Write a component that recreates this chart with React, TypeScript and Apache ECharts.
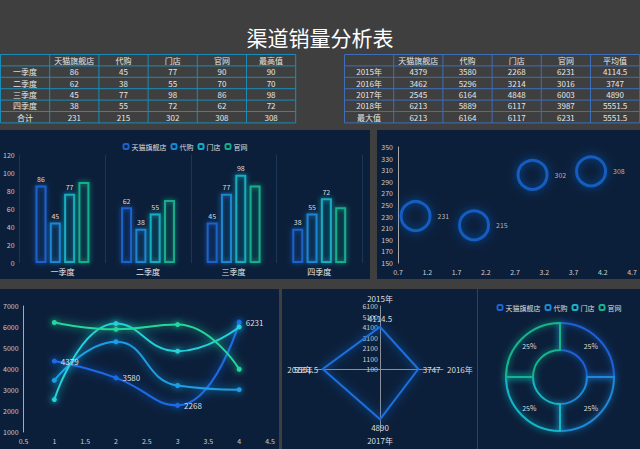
import React, { useEffect, useRef } from 'react';
import * as echarts from 'echarts';

const FONT = '"Noto Sans CJK SC", "Noto Sans", sans-serif';
const PANEL = '#0c1f3a';

const channels = ['天猫旗舰店', '代购', '门店', '官网'];
const quarters = ['一季度', '二季度', '三季度', '四季度'];
const qTmall = [86, 62, 45, 38];
const qDaigou = [45, 38, 77, 55];
const qStore = [77, 55, 98, 72];
const qWeb = [90, 70, 86, 62];
const qMax = [90, 70, 98, 72];
const qTotals = [231, 215, 302, 308];
const qTotalMax = 308;

const years = ['2015年', '2016年', '2017年', '2018年'];
const yTmall = [4379, 3462, 2545, 6213];
const yDaigou = [3580, 5296, 6164, 5889];
const yStore = [2268, 3214, 4848, 6117];
const yWeb = [6231, 3016, 6003, 3987];
const yAvg = [4114.5, 3747, 4890, 5551.5];
const yMaxRow = [6213, 6164, 6117, 6231, 5551.5];

const bubbleX = [1, 2, 3, 4];
const lineX = [1, 2, 3, 4];
const pieShares = [25, 25, 25, 25];

const BAR_C = ['#1d62cc', '#1a86d2', '#17adc0', '#16ad8a'];
const PIE_C = ['#1d62d6', '#1a8ad8', '#18b4c6', '#17b48e'];
const LINE_C = ['#1f6ae6', '#1a9ee6', '#20d2dc', '#22d89c'];
const RADAR_C = '#1a70e0';
const BUBBLE_C = '#1768d8';

const plain = (v: number) => String(v);

function tableEls(x0: number, y0: number, colW: number, rowH: number, rows: string[][], stroke: string) {
  const els: any[] = [];
  const nR = rows.length;
  const nC = rows[0].length;
  for (let r = 0; r <= nR; r++) {
    els.push({ type: 'line', shape: { x1: x0, y1: y0 + r * rowH, x2: x0 + nC * colW, y2: y0 + r * rowH }, style: { stroke, lineWidth: 1 } });
  }
  for (let c = 0; c <= nC; c++) {
    els.push({ type: 'line', shape: { x1: x0 + c * colW, y1: y0, x2: x0 + c * colW, y2: y0 + nR * rowH }, style: { stroke, lineWidth: 1 } });
  }
  rows.forEach((row, r) =>
    row.forEach((t, c) =>
      els.push({
        type: 'text',
        x: x0 + c * colW + colW / 2,
        y: y0 + r * rowH + rowH / 2,
        style: { text: t, fill: '#e6e6e6', fontSize: 8, fontFamily: FONT, align: 'center', verticalAlign: 'middle' },
      })
    )
  );
  return els;
}

export default function App() {
  const headRef = useRef<HTMLDivElement>(null);
  const barRef = useRef<HTMLDivElement>(null);
  const scatRef = useRef<HTMLDivElement>(null);
  const lineRef = useRef<HTMLDivElement>(null);
  const radarRef = useRef<HTMLDivElement>(null);
  const pieRef = useRef<HTMLDivElement>(null);

  useEffect(() => {
    const charts: any[] = [];
    const mk = (el: HTMLDivElement | null, opt: any) => {
      if (!el) return;
      const c = echarts.init(el, undefined, { renderer: 'svg' });
      c.setOption(opt);
      charts.push(c);
    };

    const leftRows: string[][] = [
      ['', ...channels, '最高值'],
      ...quarters.map((q, i) => [q, String(qTmall[i]), String(qDaigou[i]), String(qStore[i]), String(qWeb[i]), String(qMax[i])]),
      ['合计', ...qTotals.map(String), String(qTotalMax)],
    ];
    const rightRows: string[][] = [
      ['', ...channels, '平均值'],
      ...years.map((y, i) => [y, String(yTmall[i]), String(yDaigou[i]), String(yStore[i]), String(yWeb[i]), String(yAvg[i])]),
      ['最大值', ...yMaxRow.map(String)],
    ];
    mk(headRef.current, {
      animation: false,
      graphic: [
        {
          type: 'text', x: 320, y: 37,
          style: { text: '渠道销量分析表', fill: '#ffffff', fontSize: 21, fontFamily: FONT, align: 'center', verticalAlign: 'middle' },
        },
        ...tableEls(0.5, 54.5, 49.2, 11.4, leftRows, '#1b8cb8'),
        ...tableEls(344.5, 54.5, 49.2, 11.4, rightRows, '#3d6fb8'),
      ],
    });

    const qSeries = [qTmall, qDaigou, qStore, qWeb];
    mk(barRef.current, {
      animation: false,
      backgroundColor: PANEL,
      textStyle: { fontFamily: FONT },
      legend: {
        top: 8, left: 'center', itemWidth: 5, itemHeight: 5, itemGap: 4,
        textStyle: { color: '#dddddd', fontSize: 7, padding: [0, 0, 0, -2] }, data: channels,
      },
      grid: { left: 19, right: 8, top: 25, bottom: 16 },
      xAxis: {
        type: 'category', data: quarters,
        axisLine: { show: false }, axisTick: { show: false },
        axisLabel: { color: '#e8e8e8', fontSize: 8, margin: 4 },
        splitLine: { show: true, lineStyle: { color: '#1c3658' } },
      },
      yAxis: {
        type: 'value', min: 0, max: 120, interval: 20,
        axisLine: { show: false }, axisTick: { show: false }, splitLine: { show: false },
        axisLabel: { color: '#cccccc', fontSize: 7, margin: 5, formatter: plain },
      },
      series: channels.map((n, i) => ({
        type: 'bar', name: n, data: qSeries[i], barWidth: 11, barGap: '30%',
        itemStyle: { color: 'transparent', borderColor: BAR_C[i], borderWidth: 2, shadowBlur: 5, shadowColor: BAR_C[i] },
        label: { show: i < 3, position: 'top', color: '#dddddd', fontSize: 7, distance: 3 },
      })),
    });

    mk(scatRef.current, {
      animation: false,
      backgroundColor: PANEL,
      textStyle: { fontFamily: FONT },
      grid: { left: 21, right: 8, top: 17, bottom: 16 },
      xAxis: {
        type: 'value', min: 0.7, max: 4.7, interval: 0.5,
        axisLine: { show: false }, axisTick: { show: false }, splitLine: { show: false },
        axisLabel: { color: '#cccccc', fontSize: 7, margin: 5, formatter: (v: number) => v.toFixed(1) },
      },
      yAxis: {
        type: 'value', min: 150, max: 350, interval: 20,
        axisLine: { show: true, lineStyle: { color: '#aaaaaa' } }, axisTick: { show: false }, splitLine: { show: false },
        axisLabel: { color: '#cccccc', fontSize: 7, margin: 5, formatter: plain },
      },
      series: [{
        type: 'scatter', name: '合计',
        data: bubbleX.map((x, i) => [x, qTotals[i]]),
        symbolSize: 29,
        itemStyle: { color: 'transparent', borderColor: BUBBLE_C, borderWidth: 3, shadowBlur: 8, shadowColor: BUBBLE_C },
        label: { show: true, position: 'right', distance: 6, color: '#dddddd', fontSize: 7, formatter: (p: any) => String(p.value[1]) },
      }],
    });

    const yearSeries = [yTmall, yDaigou, yStore, yWeb];
    mk(lineRef.current, {
      animation: false,
      backgroundColor: PANEL,
      textStyle: { fontFamily: FONT },
      grid: { left: 23, right: 9, top: 17, bottom: 17 },
      xAxis: {
        type: 'value', min: 0.5, max: 4.5, interval: 0.5,
        axisLine: { show: false }, axisTick: { show: false }, splitLine: { show: false },
        axisLabel: { color: '#cccccc', fontSize: 7, margin: 5, formatter: plain },
      },
      yAxis: {
        type: 'value', min: 1000, max: 7000, interval: 1000,
        axisLine: { show: true, lineStyle: { color: '#aaaaaa' } }, axisTick: { show: false }, splitLine: { show: false },
        axisLabel: { color: '#cccccc', fontSize: 7, margin: 5, formatter: plain },
      },
      series: years.map((y, i) => ({
        type: 'line', name: y, smooth: true,
        data: lineX.map((x, j) => [x, yearSeries[j][i]]),
        symbol: 'circle', symbolSize: 5,
        lineStyle: { color: LINE_C[i], width: 2, shadowBlur: 8, shadowColor: LINE_C[i] },
        itemStyle: { color: LINE_C[i], shadowBlur: 6, shadowColor: LINE_C[i] },
        label: { show: i === 0, position: 'right', color: '#dddddd', fontSize: 8, distance: 4 },
      })),
    });

    const radarOrder = [0, 3, 2, 1];
    const radarPos = ['top', 'left', 'bottom', 'right'];
    const radarVals = radarOrder.map((k) => yAvg[k]);
    mk(radarRef.current, {
      animation: false,
      backgroundColor: PANEL,
      textStyle: { fontFamily: FONT },
      radar: {
        center: [98, 80], radius: 63, startAngle: 90, splitNumber: 6,
        indicator: radarOrder.map((k) => ({
          name: years[k], min: 100, max: 6100,
          ...(k === 0 ? { axisLabel: { show: true } } : {}),
        })),
        axisName: { color: '#dddddd', fontSize: 8 },
        nameGap: 4,
        axisLine: { lineStyle: { color: '#8a909a' } },
        axisTick: { show: false },
        splitLine: { show: false },
        splitArea: { show: false },
        axisLabel: { show: false, color: '#cccccc', fontSize: 7, margin: 2, formatter: plain },
      },
      series: [
        {
          type: 'radar', name: '平均值',
          data: [{ value: radarVals, name: '平均值' }],
          symbol: 'none',
          lineStyle: { color: RADAR_C, width: 2, shadowBlur: 8, shadowColor: RADAR_C },
        },
        ...radarVals.map((v, i) => ({
          type: 'radar', name: 'lbl' + i,
          data: [{ value: radarVals, name: 'lbl' + i }],
          symbol: 'circle', symbolSize: 1,
          itemStyle: { color: 'rgba(0,0,0,0)' },
          lineStyle: { width: 0, opacity: 0 },
          label: {
            show: true, position: radarPos[i], color: '#dddddd', fontSize: 8, distance: 4,
            formatter: (p: any) => (p.value === v ? String(v) : ''),
          },
        })),
      ],
    });

    mk(pieRef.current, {
      animation: false,
      backgroundColor: PANEL,
      textStyle: { fontFamily: FONT },
      legend: {
        top: 10, left: 'center', itemWidth: 5, itemHeight: 5, itemGap: 4,
        textStyle: { color: '#dddddd', fontSize: 7, padding: [0, 0, 0, -2] }, data: channels,
      },
      series: [{
        type: 'pie', center: [82, 88], radius: [27, 54], startAngle: 90,
        emphasis: { disabled: true },
        data: channels.map((n, i) => ({
          name: n, value: pieShares[i],
          itemStyle: { color: 'transparent', borderColor: PIE_C[i], borderWidth: 2, shadowBlur: 6, shadowColor: PIE_C[i] },
        })),
        label: { show: true, position: 'inside', formatter: '{d}%', color: '#dddddd', fontSize: 7 },
        labelLine: { show: false },
      }],
    });

    return () => charts.forEach((c) => c.dispose());
  }, []);

  const abs = (l: number, t: number, w: number, h: number): React.CSSProperties => ({
    position: 'absolute', left: l, top: t, width: w, height: h,
  });

  return (
    <div style={{ position: 'fixed', left: 0, top: 0, width: 640, height: 449, background: '#3f3f3f', overflow: 'hidden' }}>
      <div ref={headRef} style={abs(0, 0, 640, 126)} />
      <div ref={barRef} style={abs(0, 130, 370, 149)} />
      <div ref={scatRef} style={abs(377, 130, 263, 149)} />
      <div ref={lineRef} style={abs(0, 289, 279, 160)} />
      <div ref={radarRef} style={abs(282, 289, 195, 160)} />
      <div ref={pieRef} style={abs(478, 289, 162, 160)} />
    </div>
  );
}
